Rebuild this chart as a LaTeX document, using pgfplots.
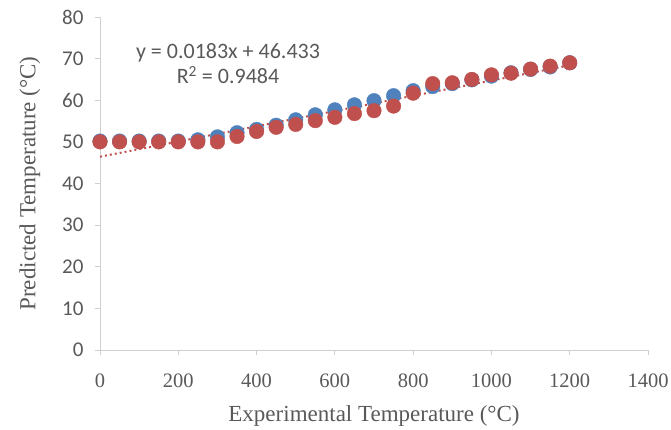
\documentclass[border=0pt]{standalone}
\usepackage{pgfplots}
\pgfplotsset{compat=1.18}
\usepackage{fontspec}
\setmainfont{Liberation Serif}
\newfontfamily\calibri{Carlito}
\definecolor{xlblue}{HTML}{4F81BD}
\definecolor{xlred}{HTML}{C0504D}
\definecolor{txtgray}{HTML}{595959}
\definecolor{axgray}{HTML}{D0D0D0}
\begin{document}
\begin{tikzpicture}[x=1bp,y=1bp]
\useasboundingbox (0,0) rectangle (671,429);
\begin{axis}[
    at={(100bp,79bp)}, anchor=south west,
    scale only axis,
    width=548bp, height=333bp,
    xmin=0, xmax=1400, ymin=0, ymax=80,
    xtick={0,200,...,1400},
    ytick={0,10,...,80},
    axis x line*=bottom, axis y line*=left,
    axis line style={axgray, line width=0.8bp},
    tick style={axgray, line width=0.8bp},
    major tick length=5bp,
    tick align=outside,
    xticklabel style={font=\fontsize{20.5bp}{24bp}\selectfont, text=txtgray, yshift=-15bp},
    yticklabel style={font=\calibri\fontsize{21bp}{24bp}\selectfont, text=txtgray, xshift=-8bp},
    /pgf/number format/assume math mode=true,
    scaled ticks=false,
    xticklabel={\pgfmathprintnumber[1000 sep={}]{\tick}},
    xlabel={Experimental Temperature (°C)},
    ylabel={Predicted Temperature (°C)},
    label style={font=\fontsize{23bp}{26bp}\selectfont, text=txtgray},
    xlabel style={yshift=-11bp},
    ylabel style={yshift=15bp},
    clip=false,
]
\addplot[only marks, mark=*, mark size=7.3bp, draw=xlblue, fill=xlblue] coordinates {
(0,50.2) (50,50.2) (100,50.2) (150,50.2) (200,50.2) (250,50.5) (300,51.2)
(350,52.2) (400,53.0) (450,54.0) (500,55.3) (550,56.5) (600,57.7) (650,58.9)
(700,59.9) (750,61.1) (800,62.3) (850,63.3) (900,64.0) (950,64.9) (1000,65.8)
(1050,66.6) (1100,67.4) (1150,68.0) (1200,69.0)};
\addplot[only marks, mark=*, mark size=7.3bp, draw=xlred, fill=xlred] coordinates {
(0,50.0) (50,50.0) (100,50.0) (150,50.0) (200,50.0) (250,50.0) (300,50.0)
(350,51.3) (400,52.5) (450,53.5) (500,54.2) (550,55.1) (600,55.9) (650,56.8)
(700,57.5) (750,58.6) (800,61.7) (850,64.0) (900,64.2) (950,65.0) (1000,66.1)
(1050,66.5) (1100,67.5) (1150,68.2) (1200,69.0)};
% linear trendline of the red series
\addplot[xlred, line width=2bp, dash pattern=on 2bp off 3bp] coordinates {(0,46.433) (1200,68.393)};
\node[text=txtgray, font=\calibri\fontsize{22bp}{25bp}\selectfont, align=center, anchor=center]
  at (axis cs:327,68.8) {y = 0.0183x + 46.433\\[0bp]R\textsuperscript{2} = 0.9484};
\end{axis}
\end{tikzpicture}
\end{document}
